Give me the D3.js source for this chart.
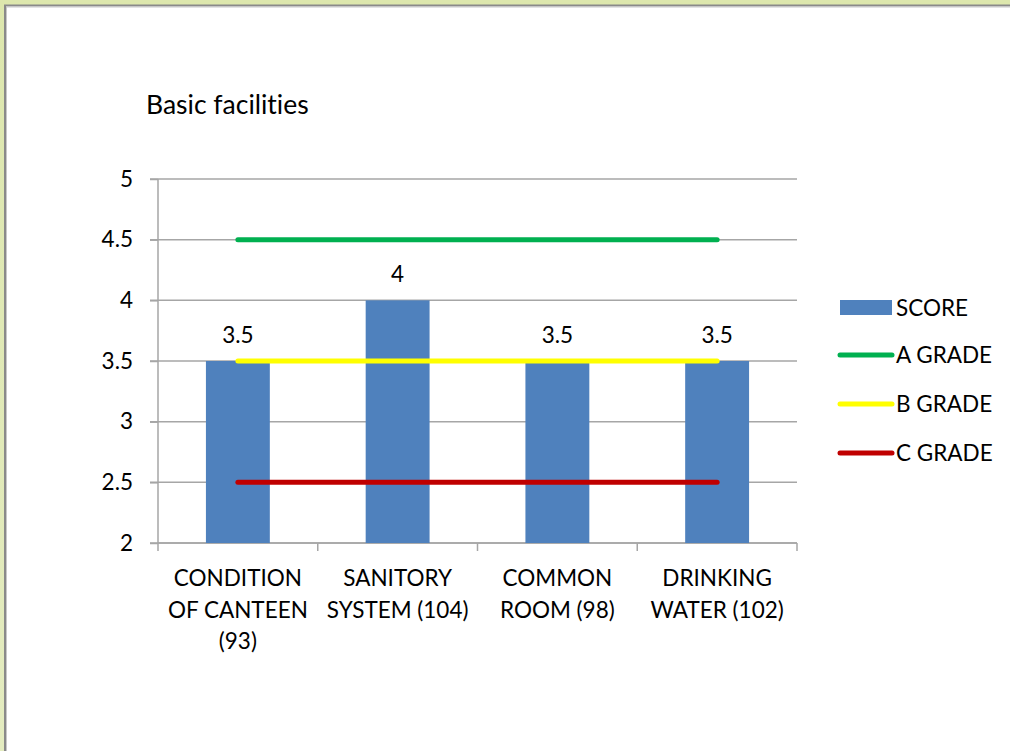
<!DOCTYPE html>
<html><head><meta charset="utf-8">
<script src="https://cdn.jsdelivr.net/npm/d3@7"></script>
<style>
html,body{margin:0;padding:0;background:#fff;}
svg{display:block;}
text{font-family:Lato,"Open Sans",sans-serif;fill:#000;font-variant-ligatures:none;}
</style></head>
<body>
<svg id="chart" width="1010" height="751"></svg>
<script>
const title = "Basic facilities";
const categories = [["CONDITION","OF CANTEEN","(93)"],["SANITORY","SYSTEM (104)"],["COMMON","ROOM (98)"],["DRINKING","WATER (102)"]];
const scores = [3.5, 4, 3.5, 3.5];
const gradeNames = ["A GRADE","B GRADE","C GRADE"];
const gradeValues = [4.5, 3.5, 2.5];
const gradeColors = ["#00b050","#ffff00","#c00000"];
const yTicks = [2, 2.5, 3, 3.5, 4, 4.5, 5];
const barColor = "#4f81bd";

(function(){
const svg = d3.select("#chart");
const FS = 22.5;
// frame
const defs = svg.append("defs");
const lg = defs.append("linearGradient").attr("id","bg").attr("x1",0).attr("y1",0).attr("x2",0).attr("y2",1);
lg.append("stop").attr("offset","0%").attr("stop-color","#dde7ad");
lg.append("stop").attr("offset","100%").attr("stop-color","#e4ecc0");
svg.append("rect").attr("x",0).attr("y",0).attr("width",1010).attr("height",751).attr("fill","url(#bg)");
svg.append("rect").attr("x",5).attr("y",5.5).attr("width",1020).attr("height",760).attr("fill","#fff").attr("stroke","#8a8a8a").attr("stroke-width",2);
svg.append("rect").attr("x",6.5).attr("y",7).attr("width",1020).attr("height",760).attr("fill","none").attr("stroke","#c8c8c8").attr("stroke-width",1);

const pL = 158, pR = 797, pT = 179, pB = 543;
const x = d3.scaleBand().domain(d3.range(categories.length)).range([pL, pR]).paddingInner(0.6).paddingOuter(0.3);
const xb = d3.scaleBand().domain(d3.range(categories.length)).range([pL, pR]);
const y = d3.scaleLinear().domain([2,5]).range([pB, pT]);

// gridlines
svg.append("g").selectAll("line").data(yTicks).join("line")
  .attr("x1",pL-8).attr("x2",pR).attr("y1",d=>y(d)).attr("y2",d=>y(d))
  .attr("stroke","#a6a6a6").attr("stroke-width",1.5);

// y axis
const yAxis = svg.append("g").attr("transform",`translate(${pL},0)`)
  .call(d3.axisLeft(y).tickValues(yTicks).tickSize(8).tickFormat(d=>d));
yAxis.select(".domain").attr("stroke","#a6a6a6").attr("stroke-width",1.5).attr("d",`M0,${pT}V${pB}`);
yAxis.selectAll(".tick line").attr("stroke","#a6a6a6").attr("stroke-width",1.5);
yAxis.selectAll(".tick text").attr("font-size",FS).attr("x",-25).style("font-family","Lato,sans-serif").attr("fill","#000");

// x axis
const xAxis = svg.append("g").attr("transform",`translate(0,${pB})`);
xAxis.append("line").attr("x1",pL).attr("x2",pR).attr("y1",0).attr("y2",0).attr("stroke","#a6a6a6").attr("stroke-width",1.5);
const tickXs = d3.range(categories.length).map(i=>xb(i)).concat([pR]);
xAxis.selectAll("line.t").data(tickXs).join("line").attr("class","t")
  .attr("x1",d=>d).attr("x2",d=>d).attr("y1",0).attr("y2",8).attr("stroke","#a6a6a6").attr("stroke-width",1.5);

// bars
svg.append("g").selectAll("rect").data(scores).join("rect")
  .attr("x",(d,i)=>x(i)).attr("width",x.bandwidth())
  .attr("y",d=>y(d)).attr("height",d=>y(2)-y(d)).attr("fill",barColor);

// grade lines
const cx = i => xb(i) + xb.bandwidth()/2;
gradeValues.forEach((v,k)=>{
  svg.append("line").attr("x1",cx(0)).attr("x2",cx(categories.length-1))
    .attr("y1",y(v)).attr("y2",y(v)).attr("stroke",gradeColors[k]).attr("stroke-width",5).attr("stroke-linecap","round");
});

// data labels
svg.append("g").selectAll("text").data(scores).join("text")
  .attr("x",(d,i)=>cx(i)).attr("y",d=>y(d)-18).attr("text-anchor","middle").attr("font-size",FS).text(d=>d);

// category labels
categories.forEach((lines,i)=>{
  const t = svg.append("text").attr("x",cx(i)).attr("y",586).attr("text-anchor","middle").attr("font-size",FS);
  lines.forEach((l,j)=>t.append("tspan").attr("x",cx(i)).attr("dy",j===0?0:31.5).text(l));
});

// title
svg.append("text").attr("x",146).attr("y",114).attr("font-size",26.5).text(title);

// legend
const lgG = svg.append("g");
lgG.append("rect").attr("x",840).attr("y",300).attr("width",52).attr("height",15).attr("fill",barColor);
lgG.append("text").attr("x",896).attr("y",316).attr("font-size",FS).text("SCORE");
gradeNames.forEach((n,k)=>{
  const yy = 355 + k*49;
  lgG.append("line").attr("x1",840).attr("x2",892).attr("y1",yy).attr("y2",yy).attr("stroke",gradeColors[k]).attr("stroke-width",5).attr("stroke-linecap","round");
  lgG.append("text").attr("x",896).attr("y",yy+8).attr("font-size",FS).text(n);
});
})();
</script>
</body></html>
